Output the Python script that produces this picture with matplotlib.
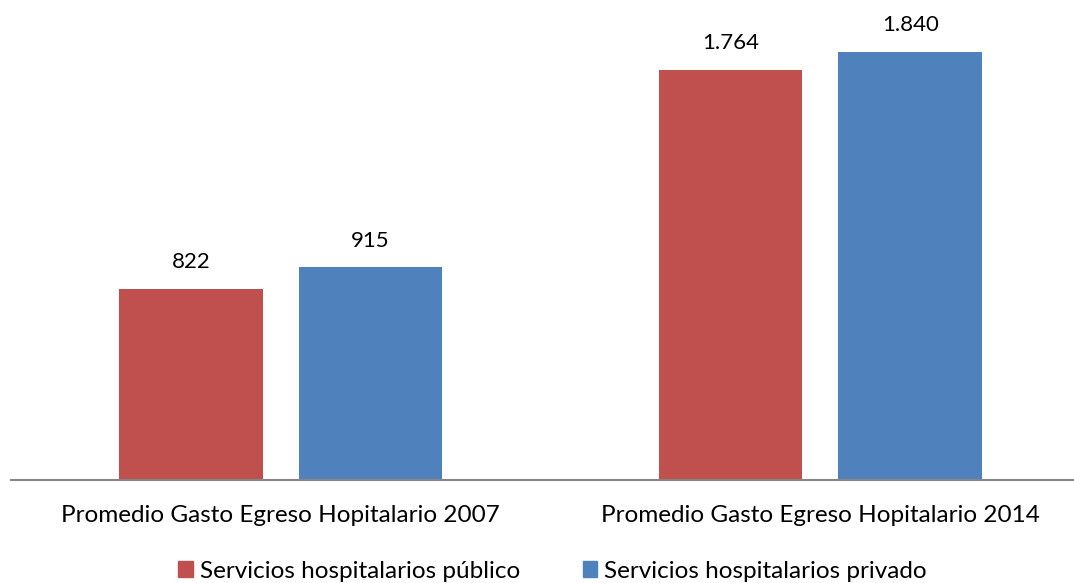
import numpy as np
import matplotlib.pyplot as plt
from matplotlib.patches import Patch

# Datos
categorias = ['Promedio Gasto Egreso Hopitalario 2007', 'Promedio Gasto Egreso Hopitalario 2014']
publico = [822, 1764]
privado = [915, 1840]
etiquetas_publico = ['822', '1.764']
etiquetas_privado = ['915', '1.840']

rojo = '#C0504D'
azul = '#4F81BD'

plt.rcParams['font.family'] = ['Lato', 'DejaVu Sans']

fig = plt.figure(figsize=(10.74, 5.83), dpi=100)
ax = fig.add_axes([11 / 1074, 1 - 480 / 583, 1063 / 1074, 480 / 583])

x = np.arange(len(categorias))
w = 0.266
off = 0.1665
b1 = ax.bar(x - off, publico, w, color=rojo)
b2 = ax.bar(x + off, privado, w, color=azul)

for bars, labs in [(b1, etiquetas_publico), (b2, etiquetas_privado)]:
    for b, t in zip(bars, labs):
        ax.annotate(t, (b.get_x() + b.get_width() / 2, b.get_height()),
                    xytext=(0, 12), textcoords='offset points',
                    ha='center', va='bottom', fontsize=16)

ax.set_xlim(-0.5, 1.47)
ax.set_ylim(0, 2064)
for s in ['top', 'right', 'left']:
    ax.spines[s].set_visible(False)
ax.spines['bottom'].set_color('#868686')
ax.spines['bottom'].set_linewidth(1.5)
ax.set_yticks([])
ax.set_xticks(x)
ax.set_xticklabels(categorias, fontsize=17.5)
ax.tick_params(axis='x', length=0, pad=18)

handles = [Patch(color=rojo, label='Servicios hospitalarios público'),
           Patch(color=azul, label='Servicios hospitalarios privado')]
fig.legend(handles=handles, loc='center', bbox_to_anchor=(0.5147, 1 - 571 / 583),
           ncol=2, frameon=False, fontsize=17.5, handlelength=0.6, handleheight=0.6,
           handletextpad=0.3, columnspacing=2.55, borderpad=0)

plt.savefig('out.png', dpi=100)
